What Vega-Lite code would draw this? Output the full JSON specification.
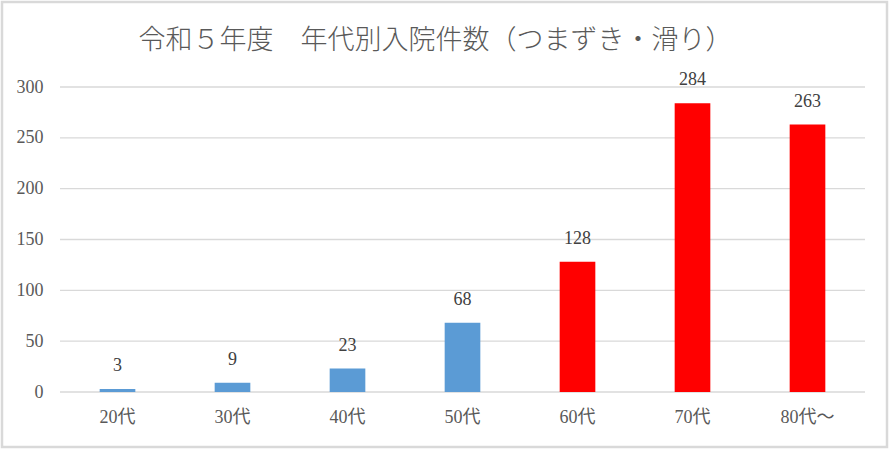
{
  "$schema": "https://vega.github.io/schema/vega-lite/v6.json",
  "width": 885,
  "height": 445,
  "autosize": {"type": "none"},
  "padding": 2,
  "background": "white",
  "title": {
    "text": "令和５年度　年代別入院件数（つまずき・滑り）",
    "font": "Liberation Serif, Noto Sans CJK JP",
    "fontSize": 27,
    "fontWeight": 300,
    "color": "#595959",
    "anchor": "middle",
    "frame": "group",
    "dx": -9,
    "offset": -53
  },
  "layer": [
    {
      "data": {"values": [{"g": 0}, {"g": 50}, {"g": 100}, {"g": 150}, {"g": 200}, {"g": 250}, {"g": 300}]},
      "mark": {"type": "rule", "color": "#d9d9d9", "strokeWidth": 1.3},
      "encoding": {
        "x": {"datum": 0, "type": "quantitative", "scale": {"domain": [0, 1], "range": [58, 863]}, "axis": null},
        "x2": {"datum": 1},
        "y": {"field": "g", "type": "quantitative"}
      }
    },
    {
      "data": {
        "values": [
          {"age": "20代", "count": 3, "group": "young"},
          {"age": "30代", "count": 9, "group": "young"},
          {"age": "40代", "count": 23, "group": "young"},
          {"age": "50代", "count": 68, "group": "young"},
          {"age": "60代", "count": 128, "group": "old"},
          {"age": "70代", "count": 284, "group": "old"},
          {"age": "80代～", "count": 263, "group": "old"}
        ]
      },
      "encoding": {
        "x": {
          "field": "age",
          "type": "nominal",
          "sort": null,
          "title": null,
          "scale": {"range": [58, 863], "paddingInner": 0.69, "paddingOuter": 0.345},
          "axis": {"labelAngle": 0, "ticks": false, "domain": false, "labelPadding": 16, "offset": -55, "grid": false}
        },
        "y": {
          "field": "count",
          "type": "quantitative",
          "title": null,
          "scale": {"domain": [0, 300], "range": [390, 85]},
          "axis": {"values": [0, 50, 100, 150, 200, 250, 300], "ticks": false, "domain": false, "grid": false, "labelPadding": 17, "offset": -58}
        }
      },
      "layer": [
        {
          "mark": {"type": "bar"},
          "encoding": {
            "color": {
              "field": "group",
              "type": "nominal",
              "scale": {"domain": ["young", "old"], "range": ["#5b9bd5", "#ff0000"]},
              "legend": null
            }
          }
        },
        {
          "mark": {"type": "text", "baseline": "bottom", "dy": -14, "fontSize": 18, "color": "#404040", "font": "Liberation Serif, Noto Sans CJK JP"},
          "encoding": {"text": {"field": "count", "type": "quantitative"}}
        }
      ]
    }
  ],
  "resolve": {"scale": {"x": "independent"}, "axis": {"x": "independent"}},
  "config": {
    "view": {"stroke": "#d9d9d9", "strokeWidth": 2.5},
    "axis": {
      "labelFont": "Liberation Serif, Noto Sans CJK JP",
      "labelFontSize": 18,
      "labelColor": "#595959"
    }
  }
}
